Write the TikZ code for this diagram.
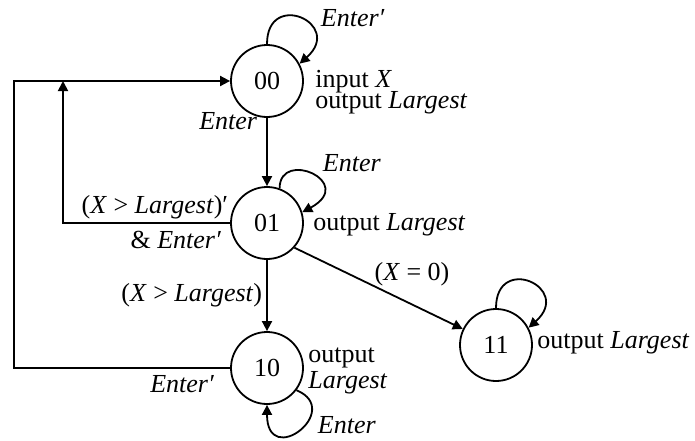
\documentclass[tikz,border=0pt]{standalone}
\usepackage{fontspec}
\setmainfont{Liberation Serif}
\usetikzlibrary{arrows.meta,calc}

\begin{document}
\begin{tikzpicture}[
    x=0.5pt, y=-0.5pt,
    font=\fontsize{13}{13.3}\selectfont,
    state/.style={draw, circle, line width=0.9pt, minimum size=36pt, inner sep=0pt},
    trans/.style={-{Triangle[length=5pt,width=5pt]}, line width=0.9pt},
    lbl/.style={inner sep=0pt}
]
\useasboundingbox (0,0) rectangle (695,440);

\node[state] (s00) at (267,81) {00};
\node[state] (s01) at (267,223) {01};
\node[state] (s10) at (267,368) {10};
\node[state] (s11) at (496,345) {11};

\node[lbl, anchor=base west] (in00) at (315,87) {input \textit{X}};
\node[lbl, anchor=base west] (out00) at (315,108) {output \textit{Largest}};
\node[lbl, anchor=base west] (out01) at (313,230) {output \textit{Largest}};
\node[lbl, anchor=base west] (out10a) at (308,362) {output};
\node[lbl, anchor=base west] (out10b) at (308,388) {\textit{Largest}};
\node[lbl, anchor=base west] (out11) at (537,348) {output \textit{Largest}};

\coordinate (outer) at (14,81);
\coordinate (inner) at (63,81);

\draw[trans] (s00.north) .. controls +(0,-55) and +(45,-40) .. (s00.28)
    node[lbl, anchor=base west] (l00) at (320,26) {\textit{Enter′}};
\draw[trans] (s00) -- (s01)
    node[lbl, anchor=base east] (l0001) at (258,129) {\textit{Enter}};
\draw[trans] (s01.70) .. controls +(0,-40) and +(55,-30) .. (s01.17)
    node[lbl, anchor=base west] (l01) at (322,171) {\textit{Enter}};
\draw[trans] (s01) -- (s10)
    node[lbl, midway, left, xshift=-2pt] (l0110) {(\textit{X} > \textit{Largest})};
\draw[trans] (s01.-42) -- (s11)
    node[lbl, anchor=base] (l0111) at (412,280) {(\textit{X} = 0)};
\draw[trans] (s01.west) -| (inner)
    node[lbl, anchor=base east] (l0100a) at (229,213) {(\textit{X} > \textit{Largest})′}
    node[lbl, anchor=base east] (l0100b) at (222,248) {\& \textit{Enter′}};
\draw[trans] (s10.-37) .. controls +(48,20) and +(0,65) .. (s10.south)
    node[lbl, anchor=base west] (l10) at (317,433) {\textit{Enter}};
\draw[trans] (s10.west) -| (outer) -- (s00.west)
    node[lbl, anchor=base east] (l1000) at (215,392) {\textit{Enter′}};
\draw[trans] (s11.north) .. controls +(0,-55) and +(45,-40) .. (s11.28);
\end{tikzpicture}
\end{document}
